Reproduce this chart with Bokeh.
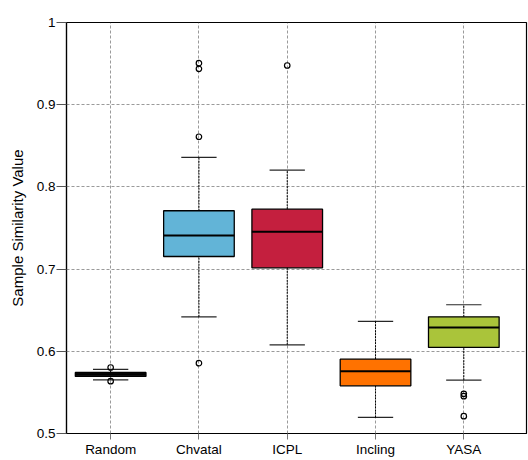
from bokeh.plotting import figure
from bokeh.models import Range1d, FixedTicker, ColumnDataSource
from bokeh.embed import file_html
from bokeh.resources import INLINE

categories = ["Random", "Chvatal", "ICPL", "Incling", "YASA"]
colors = ["#1a1a1a", "#62b4d7", "#c41f3e", "#ff7200", "#aac43a"]
q1 = [0.5694, 0.7153, 0.7016, 0.5580, 0.6047]
median = [0.5720, 0.7410, 0.7454, 0.5758, 0.6289]
q3 = [0.5742, 0.7710, 0.7729, 0.5904, 0.6420]
lower_whisker = [0.5653, 0.6420, 0.6079, 0.5195, 0.5649]
upper_whisker = [0.5779, 0.8358, 0.8203, 0.6363, 0.6566]
outliers = [
    [0.5803, 0.5636],
    [0.9505, 0.9437, 0.8610, 0.5856],
    [0.9477],
    [],
    [0.5483, 0.5454, 0.5211],
]
y_ticks = [0.5, 0.6, 0.7, 0.8, 0.9, 1.0]
y_tick_labels = ["0.5", "0.6", "0.7", "0.8", "0.9", "1"]

xs = list(range(1, len(categories) + 1))
box_w = 0.8
cap_w = 0.4

p = figure(width=528, height=460, output_backend="svg", toolbar_location=None,
           x_range=Range1d(0.5, 5.71), y_range=Range1d(0.5, 1.0),
           min_border_left=66, min_border_right=2, min_border_top=22, min_border_bottom=27)
p.background_fill_color = "white"
p.border_fill_color = "white"
p.outline_line_color = "black"
p.outline_line_width = 1.2

font = "Liberation Sans"
p.xaxis.ticker = FixedTicker(ticks=xs)
p.xaxis.major_label_overrides = {x: c for x, c in zip(xs, categories)}
p.yaxis.ticker = FixedTicker(ticks=y_ticks)
p.yaxis.major_label_overrides = {t: l for t, l in zip(y_ticks, y_tick_labels)}
for ax in (p.xaxis, p.yaxis):
    ax.major_label_text_font = font
    ax.major_label_text_font_size = "13.5px"
    ax.major_label_text_color = "black"
    ax.axis_line_color = "black"
    ax.axis_line_width = 1.2
    ax.minor_tick_line_color = None
p.xaxis.major_tick_out = 6
p.xaxis.major_tick_in = 0
p.xaxis.major_tick_line_color = "#777777"
p.xaxis.major_label_standoff = 2
p.yaxis.major_tick_out = 10
p.yaxis.major_tick_in = 0
p.yaxis.major_tick_line_color = "#555555"
p.yaxis.major_label_standoff = 1
p.yaxis.axis_label = "Sample Similarity Value"
p.yaxis.axis_label_text_font = font
p.yaxis.axis_label_text_font_size = "15px"
p.yaxis.axis_label_text_font_style = "normal"
p.yaxis.axis_label_text_color = "black"
p.yaxis.axis_label_standoff = 8

for g in (p.xgrid, p.ygrid):
    g.grid_line_color = "#555555"
    g.grid_line_dash = "3 2"
    g.grid_line_width = 0.8
    g.grid_line_alpha = 0.75

src = ColumnDataSource(dict(
    x=xs, q1=q1, med=median, q3=q3, lo=lower_whisker, hi=upper_whisker, color=colors,
    xl_cap=[x - cap_w / 2 for x in xs], xr_cap=[x + cap_w / 2 for x in xs],
    xl_box=[x - box_w / 2 for x in xs], xr_box=[x + box_w / 2 for x in xs],
))

# whiskers (dashed)
p.segment(x0="x", y0="q3", x1="x", y1="hi", source=src, line_color="black",
          line_dash="2 1", line_width=1)
p.segment(x0="x", y0="lo", x1="x", y1="q1", source=src, line_color="black",
          line_dash="2 1", line_width=1)
# caps
p.segment(x0="xl_cap", y0="hi", x1="xr_cap", y1="hi", source=src,
          line_color="black", line_width=1.2, line_alpha=0.85)
p.segment(x0="xl_cap", y0="lo", x1="xr_cap", y1="lo", source=src,
          line_color="black", line_width=1.2, line_alpha=0.85)
# boxes
p.vbar(x="x", width=box_w, bottom="q1", top="q3", source=src, fill_color="color",
       line_color="black", line_width=1.3)
# medians
p.segment(x0="xl_box", y0="med", x1="xr_box", y1="med", source=src,
          line_color="black", line_width=2)

ox, oy = [], []
for x, outs in zip(xs, outliers):
    for v in outs:
        ox.append(x)
        oy.append(v)
p.scatter(ox, oy, marker="circle", size=5.5, fill_color="white", fill_alpha=0,
          line_color="black", line_width=1.2)

open("out.html", "w").write(file_html(p, INLINE))
